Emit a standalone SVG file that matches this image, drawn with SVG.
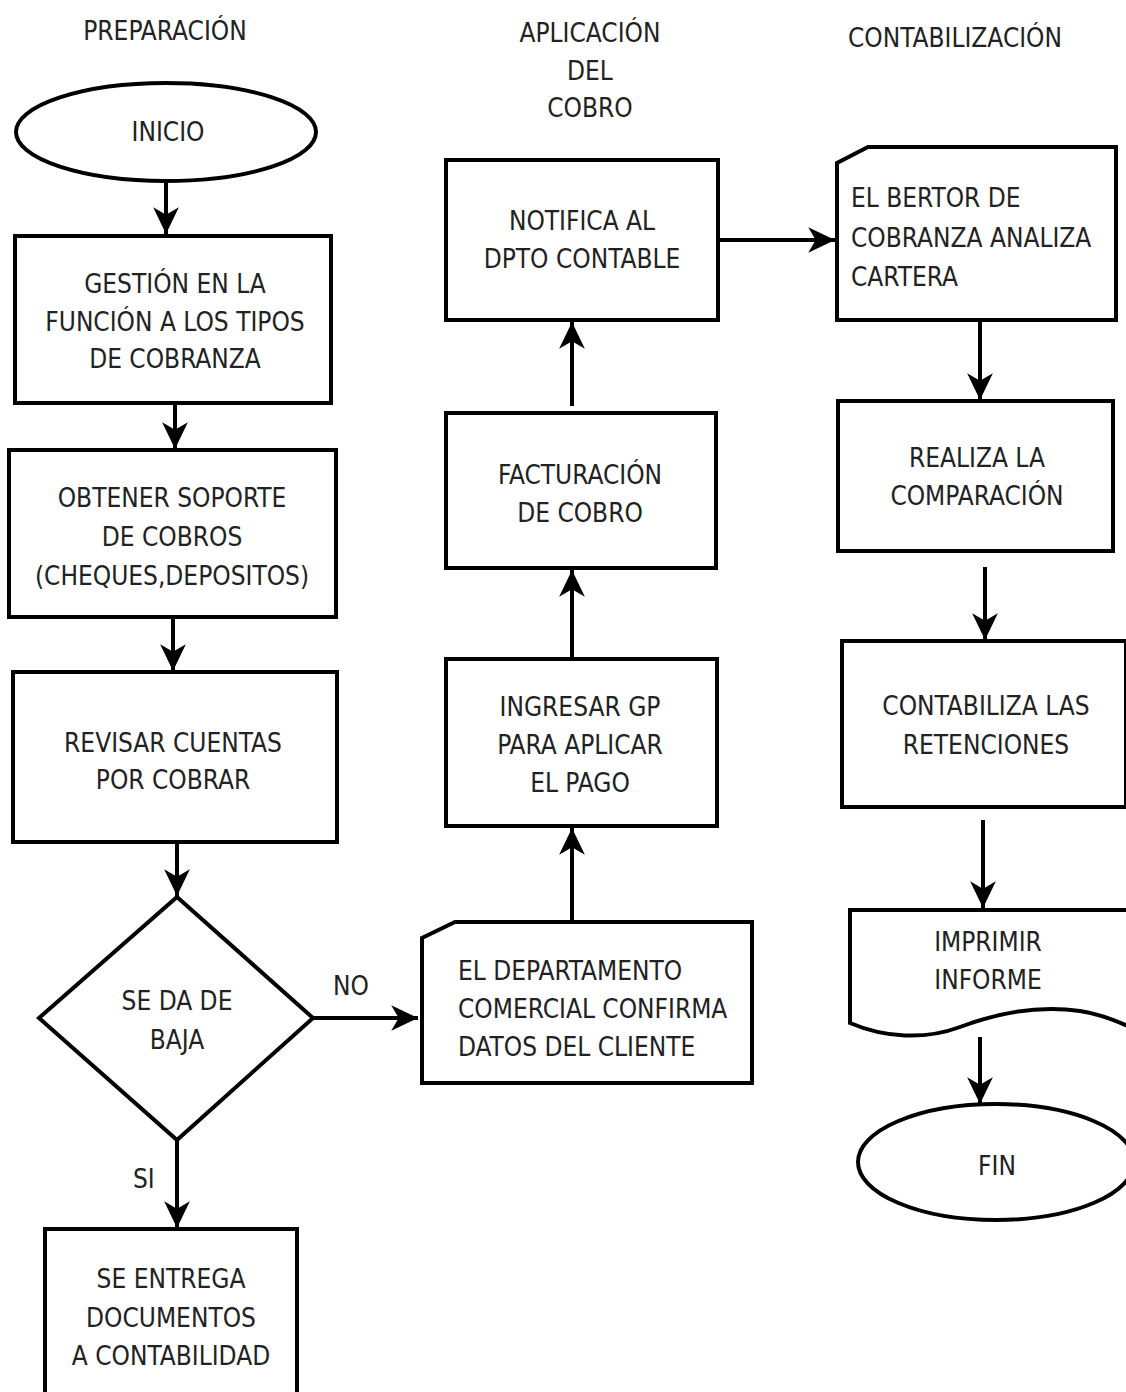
<svg xmlns="http://www.w3.org/2000/svg" width="1126" height="1392" viewBox="0 0 1126 1392">
<style>
.s{fill:#fff;stroke:#000;stroke-width:4;stroke-linejoin:miter}
.c{fill:none;stroke:#000;stroke-width:4}
text{font-family:"DejaVu Sans Condensed","DejaVu Sans","Liberation Sans",sans-serif;font-size:26px;fill:#222}
.m{text-anchor:middle}
</style>
<defs>
<marker id="ah" markerUnits="userSpaceOnUse" markerWidth="30" markerHeight="30" viewBox="-26 -13 28 26" refX="0" refY="0" orient="auto">
<path d="M0,0 L-25,-12 L-18,0 L-25,12 Z" fill="#000"/>
</marker>
</defs>
<rect width="1126" height="1392" fill="#fff"/>
<g id="titles">
<text class="m" x="165" y="40">PREPARACIÓN</text>
<text class="m" x="590" y="42">APLICACIÓN</text>
<text class="m" x="590" y="80">DEL</text>
<text class="m" x="590" y="117">COBRO</text>
<text class="m" x="955" y="47">CONTABILIZACIÓN</text>
</g>
<g id="connectors">
<line class="c" x1="166" y1="182" x2="166" y2="234" marker-end="url(#ah)"/>
<line class="c" x1="175" y1="403" x2="175" y2="449" marker-end="url(#ah)"/>
<line class="c" x1="173" y1="617" x2="173" y2="671" marker-end="url(#ah)"/>
<line class="c" x1="177" y1="842" x2="177" y2="896" marker-end="url(#ah)"/>
<line class="c" x1="313" y1="1018" x2="418" y2="1018" marker-end="url(#ah)"/>
<line class="c" x1="177" y1="1140" x2="177" y2="1228" marker-end="url(#ah)"/>
<line class="c" x1="572" y1="921" x2="572" y2="828" marker-end="url(#ah)"/>
<line class="c" x1="572" y1="659" x2="572" y2="570" marker-end="url(#ah)"/>
<line class="c" x1="572" y1="406" x2="572" y2="322" marker-end="url(#ah)"/>
<line class="c" x1="718" y1="240" x2="835" y2="240" marker-end="url(#ah)"/>
<line class="c" x1="980" y1="320" x2="980" y2="400" marker-end="url(#ah)"/>
<line class="c" x1="985" y1="567" x2="985" y2="640" marker-end="url(#ah)"/>
<line class="c" x1="983" y1="820" x2="983" y2="908" marker-end="url(#ah)"/>
<line class="c" x1="980" y1="1037" x2="980" y2="1104" marker-end="url(#ah)"/>
<text x="333" y="995">NO</text>
<text x="133" y="1188">SI</text>
</g>
<g id="inicio">
<ellipse class="s" cx="166" cy="132" rx="150" ry="49"/>
<text class="m" x="168" y="141">INICIO</text>
</g>
<g id="gestion">
<rect class="s" x="15" y="236" width="316" height="167"/>
<text class="m" x="175" y="293">GESTIÓN EN LA</text>
<text class="m" x="175" y="331">FUNCIÓN A LOS TIPOS</text>
<text class="m" x="175" y="368">DE COBRANZA</text>
</g>
<g id="obtener">
<rect class="s" x="9" y="450" width="327" height="167"/>
<text class="m" x="172" y="507">OBTENER SOPORTE</text>
<text class="m" x="172" y="546">DE COBROS</text>
<text class="m" x="172" y="585">(CHEQUES,DEPOSITOS)</text>
</g>
<g id="revisar">
<rect class="s" x="13" y="672" width="324" height="170"/>
<text class="m" x="173" y="752">REVISAR CUENTAS</text>
<text class="m" x="173" y="789">POR COBRAR</text>
</g>
<g id="decision">
<polygon class="s" points="177,897 313,1018 177,1140 39,1018"/>
<text class="m" x="177" y="1010">SE DA DE</text>
<text class="m" x="177" y="1049">BAJA</text>
</g>
<g id="entrega">
<rect class="s" x="45" y="1229" width="252" height="175"/>
<text class="m" x="171" y="1288">SE ENTREGA</text>
<text class="m" x="171" y="1327">DOCUMENTOS</text>
<text class="m" x="171" y="1365">A CONTABILIDAD</text>
</g>
<g id="departamento">
<polygon class="s" points="455,922 752,922 752,1083 422,1083 422,938"/>
<text x="458" y="980">EL DEPARTAMENTO</text>
<text x="458" y="1018">COMERCIAL CONFIRMA</text>
<text x="458" y="1056">DATOS DEL CLIENTE</text>
</g>
<g id="ingresar">
<rect class="s" x="446" y="659" width="271" height="167"/>
<text class="m" x="580" y="716">INGRESAR GP</text>
<text class="m" x="580" y="754">PARA APLICAR</text>
<text class="m" x="580" y="792">EL PAGO</text>
</g>
<g id="facturacion">
<rect class="s" x="446" y="413" width="270" height="155"/>
<text class="m" x="580" y="484">FACTURACIÓN</text>
<text class="m" x="580" y="522">DE COBRO</text>
</g>
<g id="notifica">
<rect class="s" x="446" y="160" width="272" height="160"/>
<text class="m" x="582" y="230">NOTIFICA AL</text>
<text class="m" x="582" y="268">DPTO CONTABLE</text>
</g>
<g id="bertor">
<polygon class="s" points="868,147 1116,147 1116,320 837,320 837,163"/>
<text x="851" y="207">EL BERTOR DE</text>
<text x="851" y="247">COBRANZA ANALIZA</text>
<text x="851" y="286">CARTERA</text>
</g>
<g id="realiza">
<rect class="s" x="838" y="401" width="275" height="150"/>
<text class="m" x="977" y="467">REALIZA LA</text>
<text class="m" x="977" y="505">COMPARACIÓN</text>
</g>
<g id="contabiliza">
<rect class="s" x="842" y="641" width="284" height="166"/>
<text class="m" x="986" y="715">CONTABILIZA LAS</text>
<text class="m" x="986" y="754">RETENCIONES</text>
</g>
<g id="imprimir">
<path class="s" d="M850,910 H1132 V1028 C1115,1020 1100,1014 1080,1011 C1040,1005 1000,1012 960,1027 C925,1040 885,1038 850,1023 Z"/>
<text class="m" x="988" y="951">IMPRIMIR</text>
<text class="m" x="988" y="989">INFORME</text>
</g>
<g id="fin">
<ellipse class="s" cx="996" cy="1162" rx="138" ry="58"/>
<text class="m" x="997" y="1175">FIN</text>
</g>
</svg>
